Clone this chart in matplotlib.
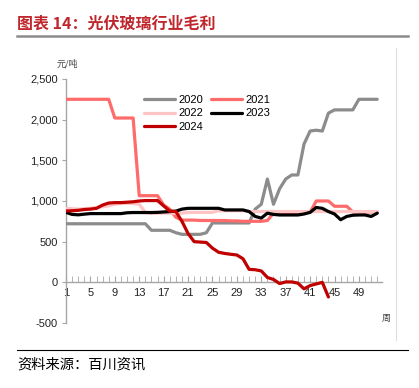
import matplotlib
matplotlib.use("Agg")
import matplotlib.pyplot as plt
from matplotlib.lines import Line2D

plt.rcParams['font.family'] = ['Liberation Sans', 'Noto Sans CJK SC', 'DejaVu Sans']

# 周次
weeks = list(range(1, 53))
weeks_2024 = list(range(1, 45))

# 光伏玻璃行业毛利（元/吨），按周读图估计
gm_2020 = [720] * 14 + [640, 640, 640, 640, 610, 590, 590, 590, 590, 610,
                        730, 730, 730, 730, 730, 730, 730, 900, 960, 1270,
                        960, 1150, 1270, 1320, 1320, 1700, 1860, 1870, 1860, 2080,
                        2120, 2120, 2120, 2120, 2250, 2250, 2250, 2250]
gm_2021 = [2250] * 8 + [2020, 2020, 2020, 2020, 1065, 1065, 1065, 1065, 950, 900,
                        800, 765, 765, 765, 760, 760, 760, 760, 760, 755,
                        755, 750, 750, 750, 750, 760, 850, 860, 860, 860,
                        860, 860, 860, 1000, 1000, 1000, 935, 935, 935, 865,
                        865, 865, 865, 865]
gm_2022 = [910, 905, 900, 905, 910, 920, 930, 940, 960, 970,
           970, 970, 960, 860, 850, 850, 850, 850, 850, 850,
           860, 860, 860, 860, 860, 880, 880, 880, 880, 880,
           870, 870, 870, 870, 870, 870, 870, 870, 870, 870,
           870, 870, 870, 870, 870, 870, 870, 870, 870, 870,
           870, 870]
gm_2023 = [860, 835, 830, 838, 845, 845, 845, 845, 845, 845,
           855, 858, 858, 858, 858, 860, 865, 870, 875, 900,
           910, 910, 910, 910, 910, 910, 890, 890, 890, 890,
           870, 810, 790, 850, 835, 828, 828, 828, 828, 840,
           860, 920, 910, 870, 840, 770, 810, 825, 828, 828,
           810, 850]
gm_2024 = [877, 880, 885, 895, 900, 910, 950, 975, 980, 980,
           985, 990, 1000, 1005, 1005, 1005, 940, 875, 870, 750,
           600, 500, 495, 490, 420, 370, 355, 345, 336, 290,
           160, 155, 140, 60, 35, -15, 5, 5, -10, -80,
           -40, -20, 0, -180]

series = [
    ('2020', weeks, gm_2020, '#8C8C8C'),
    ('2021', weeks, gm_2021, '#FF6B6B'),
    ('2022', weeks, gm_2022, '#FFC4C4'),
    ('2023', weeks, gm_2023, '#000000'),
    ('2024', weeks_2024, gm_2024, '#C00000'),
]

fig = plt.figure(figsize=(4.19, 3.88), dpi=100)
ax = fig.add_axes([0.1575, 0.1675, 0.7545, 0.629])

lines = {}
for name, x, y, c in series:
    ln, = ax.plot(x, y, color=c, lw=2.3, solid_joinstyle='round', solid_capstyle='round', zorder=3)
    lines[name] = ln

ax.set_xlim(1, 52.8)
ax.set_ylim(-500, 2500)
ax.set_yticks([-500, 0, 500, 1000, 1500, 2000, 2500])
ax.set_yticklabels(['-500', '0', '500', '1,000', '1,500', '2,000', '2,500'])
ax.set_xticks(list(range(1, 52, 4)))
ax.set_xticks(weeks, minor=True)

for s in ['top', 'right']:
    ax.spines[s].set_visible(False)
ax.spines['bottom'].set_position(('data', 0))
for s in ['left', 'bottom']:
    ax.spines[s].set_color('#A6A6A6')
    ax.spines[s].set_linewidth(1.0)

ax.tick_params(axis='y', direction='out', length=3, color='#A6A6A6', labelsize=8, pad=3, labelcolor='#222222')
ax.tick_params(axis='x', which='both', direction='in', length=4, color='#A6A6A6', labelsize=8, pad=4, labelcolor='#222222')

order = ['2020', '2022', '2024', '2021', '2023']
ax.legend([lines[k] for k in order], order, ncol=2, loc='upper left',
          bbox_to_anchor=(0.24, 0.945), frameon=False, fontsize=8,
          handlelength=2.8, handletextpad=0.3, columnspacing=0.7,
          labelspacing=0.35, borderaxespad=0, borderpad=0.2)

# 标题、单位、来源
fig.text(17 / 419, 1 - 24 / 388, '图表 14：光伏玻璃行业毛利', color='#C0272D',
         fontsize=11.5, fontweight='bold', va='center', ha='left',
         family=['Noto Sans CJK SC', 'DejaVu Sans'])
fig.add_artist(Line2D([17 / 419, 408 / 419], [1 - 36 / 388] * 2, color='#8C8C8C', lw=1.8))
fig.add_artist(Line2D([396 / 419] * 2, [1 - 48 / 388, 1 - 340 / 388], color='#DDDDDD', lw=0.8))
fig.add_artist(Line2D([17 / 419, 408 / 419], [1 - 350 / 388] * 2, color='#000000', lw=0.8))
fig.text(57 / 419, 1 - 64 / 388, '元/吨', fontsize=6.5, color='#444444', va='center', ha='left',
         family=['Noto Sans CJK SC', 'DejaVu Sans'])
fig.text(386 / 419, 1 - 318 / 388, '周', fontsize=6.5, color='#444444', va='center', ha='center',
         family=['Noto Sans CJK SC', 'DejaVu Sans'])
fig.text(17 / 419, 1 - 365 / 388, '资料来源：百川资讯', fontsize=10.3, color='#000000', va='center', ha='left',
         family=['Noto Sans CJK SC', 'DejaVu Sans'])

fig.savefig('out.png', dpi=100)
